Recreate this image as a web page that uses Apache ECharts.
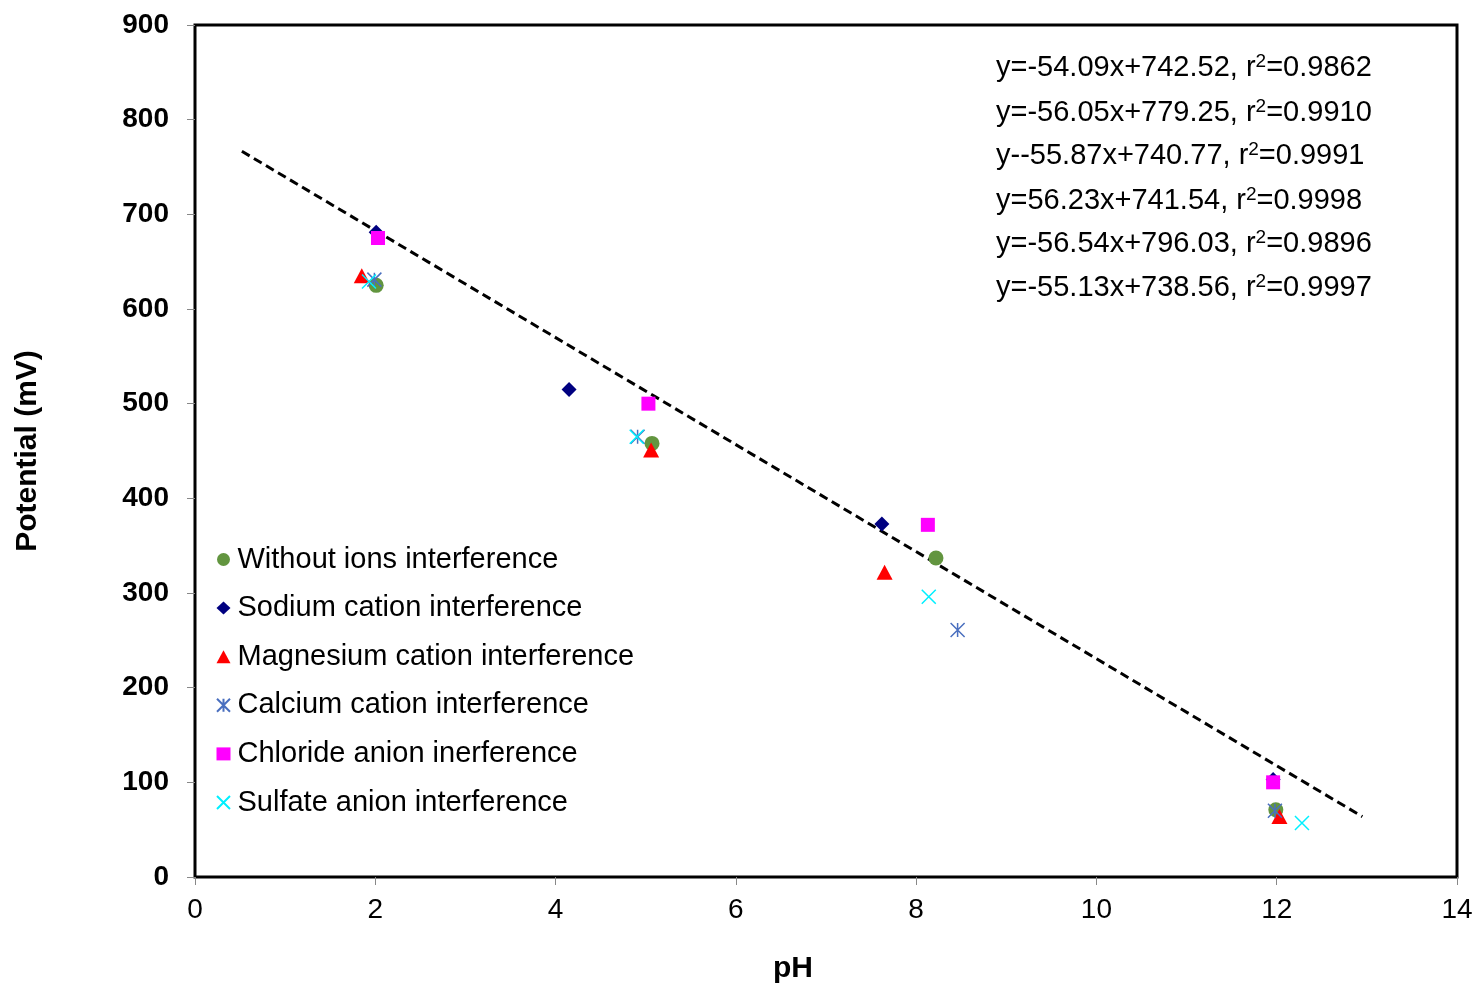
<!DOCTYPE html>
<html>
<head>
<meta charset="utf-8">
<script src="https://cdn.jsdelivr.net/npm/echarts@6/dist/echarts.min.js"></script>
<style>
html,body{margin:0;padding:0;background:#fff;}
#chart{width:1478px;height:987px;}
</style>
</head>
<body>
<div id="chart"></div>
<script>
// ---- data (pH, potential mV) ----
var withoutIons = [[2.01, 625], [5.07, 458], [8.22, 337], [11.99, 71]];
var sodium      = [[2.01, 681], [4.15, 515], [7.62, 373], [11.96, 103]];
var magnesium   = [[1.85, 635], [5.06, 451], [7.65, 322], [12.03, 64]];
var calcium     = [[1.99, 631], [4.91, 465], [8.46, 261], [11.98, 70]];
var chloride    = [[2.03, 675], [5.03, 500], [8.13, 372], [11.96, 100]];
var sulfate     = [[1.93, 629], [4.90, 465], [8.14, 296], [12.28, 57]];
var fitLine     = [[0.52, 766.6], [12.95, 63.8]];

var seriesNames = [
  'Without ions interference',
  'Sodium cation interference',
  'Magnesium cation interference',
  'Calcium cation interference',
  'Chloride anion inerference',
  'Sulfate anion interference'
];
var eqLines = [
  'y=-54.09x+742.52',
  'y=-56.05x+779.25',
  'y--55.87x+740.77',
  'y=56.23x+741.54',
  'y=-56.54x+796.03',
  'y=-55.13x+738.56'
];
var r2Vals = ['0.9862', '0.9910', '0.9991', '0.9998', '0.9896', '0.9997'];

var xTicks = [0, 2, 4, 6, 8, 10, 12, 14];
var yTicks = [0, 100, 200, 300, 400, 500, 600, 700, 800, 900];

var FONT = "'Liberation Sans', Arial, Helvetica, sans-serif";
var chart = echarts.init(document.getElementById('chart'));

var asteriskPath = 'path://M0,0L10,10M10,0L0,10M5,0L5,10';
var crossPath = 'path://M0,0L10,10M10,0L0,10';

function eqGraphics() {
  var g = [];
  var centers = [65, 110, 153, 198, 241, 285];
  for (var i = 0; i < eqLines.length; i++) {
    g.push({
      type: 'text',
      left: 996,
      top: centers[i] - 13,
      style: {
        text: eqLines[i] + ', r{sup|2}=' + r2Vals[i],
        font: '29px ' + FONT,
        fill: '#000',
        rich: {
          sup: { fontSize: 19, fontFamily: FONT, verticalAlign: 'top', padding: [0, 0, 12, 0] }
        }
      }
    });
  }
  return g;
}

var option = {
  backgroundColor: '#fff',
  animation: false,
  grid: {
    left: 195, right: 21, top: 25, bottom: 110,
    outerBoundsMode: 'none', containLabel: false,
    show: true, borderColor: '#000', borderWidth: 3, backgroundColor: 'transparent'
  },
  legend: {
    orient: 'vertical',
    left: 211,
    top: 540,
    itemGap: 19.6,
    itemWidth: 14,
    itemHeight: 13,
    data: seriesNames,
    textStyle: { fontFamily: FONT, fontSize: 29, color: '#000', padding: [0, 0, 0, 2] }
  },
  xAxis: {
    type: 'value',
    min: 0, max: 14, interval: 2,
    name: 'pH',
    nameLocation: 'middle',
    nameGap: 77,
    nameTextStyle: { fontFamily: FONT, fontSize: 30, fontWeight: 'bold', color: '#000', padding: [0, 66, 0, 0] },
    axisLine: { show: false },
    axisTick: { show: true, length: 8, lineStyle: { color: '#888', width: 1 } },
    axisLabel: { margin: 19, fontFamily: FONT, fontSize: 28, color: '#000',
      formatter: function (v) { return xTicks.indexOf(v) >= 0 ? String(v) : ''; } },
    splitLine: { show: false }
  },
  yAxis: {
    type: 'value',
    min: 0, max: 900, interval: 100,
    name: 'Potential (mV)',
    nameLocation: 'middle',
    nameGap: 152,
    nameTextStyle: { fontFamily: FONT, fontSize: 30, fontWeight: 'bold', color: '#000' },
    axisLine: { show: false },
    axisTick: { show: true, length: 8, lineStyle: { color: '#888', width: 1 } },
    axisLabel: { margin: 26, fontFamily: FONT, fontSize: 28, fontWeight: 'bold', color: '#000',
      formatter: function (v) { return yTicks.indexOf(v) >= 0 ? String(v) : ''; } },
    splitLine: { show: false }
  },
  graphic: eqGraphics(),
  series: [
    {
      name: 'fit', type: 'line', data: fitLine, symbol: 'none', z: 1,
      lineStyle: { color: '#000', width: 3, type: [9, 5] }, silent: true
    },
    {
      name: seriesNames[0], type: 'scatter', data: withoutIons,
      symbol: 'circle', symbolSize: 15, itemStyle: { color: '#62953F', opacity: 1 }
    },
    {
      name: seriesNames[1], type: 'scatter', data: sodium,
      symbol: 'diamond', symbolSize: [15, 15], itemStyle: { color: '#000080', opacity: 1 }
    },
    {
      name: seriesNames[2], type: 'scatter', data: magnesium,
      symbol: 'triangle', symbolSize: [16, 15], itemStyle: { color: '#FF0000', opacity: 1 }
    },
    {
      name: seriesNames[3], type: 'scatter', data: calcium,
      symbol: asteriskPath, symbolSize: 14,
      itemStyle: { color: 'transparent', borderColor: '#4A6FBF', borderWidth: 1.5, opacity: 1 }
    },
    {
      name: seriesNames[4], type: 'scatter', data: chloride,
      symbol: 'rect', symbolSize: 14, itemStyle: { color: '#FF00FF', opacity: 1 }
    },
    {
      name: seriesNames[5], type: 'scatter', data: sulfate,
      symbol: crossPath, symbolSize: 14,
      itemStyle: { color: 'transparent', borderColor: '#00F0FF', borderWidth: 1.5, opacity: 1 }
    }
  ]
};
chart.setOption(option);
</script>
</body>
</html>
